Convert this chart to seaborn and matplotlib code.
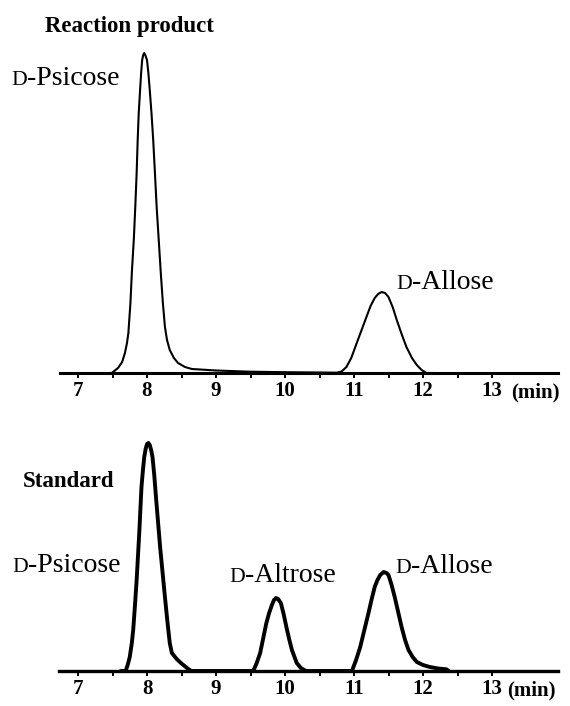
import matplotlib.pyplot as plt
import seaborn as sns

# retention time (min) and detector response
rxn_time = [7.45, 7.49, 7.58, 7.64, 7.68, 7.71, 7.73, 7.76, 7.78, 7.81, 7.83, 7.85,
            7.865, 7.88, 7.90, 7.915, 7.93, 7.945, 7.96, 7.975, 7.99, 8.00, 8.02,
            8.04, 8.065, 8.09, 8.115, 8.14, 8.17, 8.20, 8.23, 8.26, 8.29, 8.33,
            8.39, 8.45, 8.55, 8.65, 8.77, 9.0, 9.5, 10.0, 10.5, 10.75, 10.82,
            10.89, 10.96, 11.04, 11.11, 11.18, 11.24, 11.30, 11.35, 11.40, 11.45,
            11.50, 11.56, 11.62, 11.69, 11.76, 11.84, 11.91, 11.98, 12.05, 12.2]
rxn_signal = [0, 0, 5, 11, 20, 30, 40, 70, 100, 135, 166, 200,
              233, 260, 283, 300, 313, 318, 320, 318, 315, 313, 300,
              283, 260, 233, 200, 166, 133, 100, 70, 46, 33, 23,
              15, 10, 6, 4, 3.5, 2.5, 1.3, 0.8, 0.5, 0.3, 1.5,
              6, 15, 30, 43, 56, 67, 75, 79, 81, 80,
              76, 66, 53, 39, 26, 15, 8, 3, 0, 0]

std_time = [7.62, 7.69, 7.72, 7.75, 7.78, 7.80, 7.825, 7.85, 7.87, 7.89, 7.905, 7.92,
            7.94, 7.96, 7.98, 8.00, 8.02, 8.04, 8.06, 8.08, 8.105, 8.13, 8.16,
            8.19, 8.225, 8.26, 8.295, 8.33, 8.36, 8.43, 8.50, 8.58, 8.64, 9.50,
            9.54, 9.59, 9.64, 9.685, 9.73, 9.77, 9.81, 9.84, 9.87, 9.90, 9.94,
            9.98, 10.02, 10.06, 10.10, 10.17, 10.23, 10.29, 10.32, 10.95, 10.97,
            11.03, 11.09, 11.15, 11.21, 11.26, 11.30, 11.34, 11.38, 11.43, 11.47,
            11.50, 11.545, 11.59, 11.64, 11.69, 11.74, 11.79, 11.85, 11.91, 12.00,
            12.10, 12.22, 12.34, 12.37]
std_signal = [0, 0, 6, 14, 28, 41, 65, 91, 116, 141, 163, 184,
              200, 214, 222, 227, 228, 226, 221, 214, 196, 174, 149,
              124, 99, 74, 50, 28, 18, 12, 7.5, 3, 0, 0,
              0, 8, 18, 33, 48, 58, 66, 71, 73, 72, 68,
              57, 44, 32, 21, 8, 3, 0.5, 0, 0, 0,
              11, 24, 41, 58, 73, 84, 91, 96, 99, 98,
              96, 86, 74, 59, 44, 31, 21, 14, 9, 6,
              4, 2.5, 1.7, 0]

major_ticks = [7, 8, 9, 10, 11, 12, 13]
minor_ticks = [7.5, 8.5, 9.5, 10.5, 11.5, 12.5]

sns.set_style("ticks")
plt.rcParams['font.family'] = ['Liberation Serif', 'DejaVu Serif']
plt.rcParams['text.color'] = 'black'

W, H = 570, 706
fig = plt.figure(figsize=(W / 100, H / 100), dpi=100)


def px_axes(left, right, top, bottom):
    return fig.add_axes([left / W, 1 - bottom / H, (right - left) / W, (bottom - top) / H])


def style(ax, left_px, ymax, axis_lw):
    ax.set_xlim(7 - (78 - left_px) / 69, 7 + (558 - 78) / 69)
    ax.set_ylim(0, ymax)
    for s in ['left', 'top', 'right']:
        ax.spines[s].set_visible(False)
    ax.spines['bottom'].set_linewidth(axis_lw)
    ax.spines['bottom'].set_color('black')
    ax.set_yticks([])
    ax.set_xticks(major_ticks)
    ax.set_xticks(minor_ticks, minor=True)
    ax.set_xticklabels([str(t) for t in major_ticks], fontsize=15, fontweight='bold')
    ax.tick_params(axis='x', which='both', direction='out', length=3.5, width=1.4,
                   color='black', labelcolor='black', pad=2.5, bottom=True)
    ax.set_xlabel('')
    ax.set_ylabel('')


ax1 = px_axes(60, 558, 40, 373)
sns.lineplot(x=rxn_time, y=rxn_signal, ax=ax1, color='black', linewidth=1.5,
             estimator=None, clip_on=False)
style(ax1, 60, 333, 2.2)

ax2 = px_axes(59, 558, 430, 671)
sns.lineplot(x=std_time, y=std_signal, ax=ax2, color='black', linewidth=2.8,
             estimator=None, clip_on=False)
style(ax2, 59, 241, 2.4)

renderer = fig.canvas.get_renderer()


def sugar(name, x, y, size=20):
    d = fig.text(x / W, 1 - y / H, 'D', fontsize=size * 0.78, va='baseline', ha='left',
                 color='black')
    bb = d.get_window_extent(renderer)
    fig.text(bb.x1 / W, 1 - y / H, '-' + name, fontsize=size, va='baseline', ha='left',
             color='black')


sugar('Psicose', 11, 85)
sugar('Allose', 396, 289)
sugar('Psicose', 12, 572)
sugar('Altrose', 229, 582)
sugar('Allose', 395, 573)

fig.text(45 / W, 1 - 32 / H, 'Reaction product', fontsize=16.5, fontweight='bold',
         va='baseline', color='black')
fig.text(23 / W, 1 - 487 / H, 'Standard', fontsize=16.5, fontweight='bold',
         va='baseline', color='black')
fig.text(511 / W, 1 - 397 / H, '(min)', fontsize=15, fontweight='bold',
         va='baseline', color='black')
fig.text(507 / W, 1 - 695 / H, '(min)', fontsize=15, fontweight='bold',
         va='baseline', color='black')

fig.savefig('out.png', dpi=100)
